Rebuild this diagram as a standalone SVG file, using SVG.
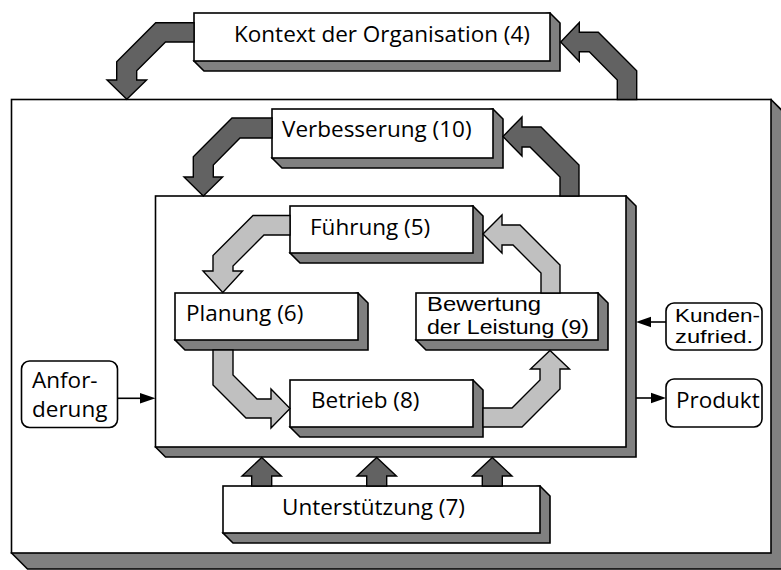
<svg xmlns="http://www.w3.org/2000/svg" width="781" height="570" viewBox="0 0 781 570">
<style>
.face{fill:#fff;stroke:#000;stroke-width:1.6}
.side{fill:#808080;stroke:#000;stroke-width:1.6;stroke-linejoin:miter}
.dark{fill:#626262;stroke:#000;stroke-width:1.4;stroke-linejoin:miter}
.light{fill:#c0c0c0;stroke:#000;stroke-width:1.4;stroke-linejoin:miter}
.rb{fill:#fff;stroke:#000;stroke-width:1.6}
.ln{stroke:#000;stroke-width:1.6;fill:none}
.hd{fill:#000}
text{font-family:"Open Sans","Noto Sans",sans-serif;font-size:22.5px;fill:#000}
text.tight{font-family:"Liberation Sans",Arial,sans-serif;font-size:20.5px}
</style>
<rect width="781" height="570" fill="#fff"/>

<g id="outer">
<polygon class="side" points="771,99.5 787,115.5 787,569 27.5,569 11.5,553"/>
<rect class="face" x="11.5" y="99.5" width="759.5" height="453.5"/>
</g>

<g id="kontext">
<polygon class="side" points="550,13 560,23 560,71 204,71 194,61"/>
<rect class="face" x="194" y="13" width="356" height="48"/>
<text x="234" y="42">Kontext der Organisation (4)</text>
</g>

<g id="verbesserung">
<polygon class="side" points="493,109 503,119 503,168 282,168 272,158"/>
<rect class="face" x="272" y="109" width="221" height="49"/>
<text x="282" y="137">Verbesserung (10)</text>
</g>

<g id="inner">
<polygon class="side" points="626,196 636,206 636,457 165.5,457 155.5,447"/>
<rect class="face" x="155.5" y="196" width="470.5" height="251"/>
</g>

<g id="fuehrung">
<polygon class="side" points="473,206 483,216 483,263 300,263 290,253"/>
<rect class="face" x="290" y="206" width="183" height="47"/>
<text x="310" y="235">Führung (5)</text>
</g>

<g id="planung">
<polygon class="side" points="358,293 368,303 368,350 185,350 175,340"/>
<rect class="face" x="175" y="293" width="183" height="47"/>
<text x="186" y="321">Planung (6)</text>
</g>

<g id="bewertung">
<polygon class="side" points="598,293 608,303 608,350 426,350 416,340"/>
<rect class="face" x="416" y="293" width="182" height="47"/>
<text class="tight" x="427" y="311"><tspan textLength="114" lengthAdjust="spacingAndGlyphs">Bewertung</tspan><tspan x="427" dy="22.5" textLength="162" lengthAdjust="spacingAndGlyphs">der Leistung (9)</tspan></text>
</g>

<g id="betrieb">
<polygon class="side" points="473,380 483,390 483,437 300,437 290,427"/>
<rect class="face" x="290" y="380" width="183" height="47"/>
<text x="311" y="408">Betrieb (8)</text>
</g>

<g id="unterstuetzung">
<polygon class="side" points="540,486 550,496 550,543 233,543 223,533"/>
<rect class="face" x="223" y="486" width="317" height="47"/>
<text x="282" y="515">Unterstützung (7)</text>
</g>

<g id="anforderung">
<rect class="rb" x="21.5" y="361" width="96" height="66.5" rx="8"/>
<text x="32" y="388">Anfor-<tspan x="32" dy="29">derung</tspan></text>
</g>

<g id="kundenzufriedenheit">
<rect class="rb" x="666" y="303" width="96" height="47" rx="8"/>
<text class="tight" x="675" y="322" style="font-size:18.5px"><tspan textLength="85" lengthAdjust="spacingAndGlyphs">Kunden-</tspan><tspan x="675" dy="20.5" textLength="78" lengthAdjust="spacingAndGlyphs">zufried.</tspan></text>
</g>

<g id="produkt">
<rect class="rb" x="666" y="379" width="96" height="48" rx="8"/>
<text x="676" y="408">Produkt</text>
</g>

<g id="connectors">
<polygon class="dark" points="194,22.7 155.7,22.7 116.7,61.7 116.7,80 107,80 126.8,99.3 146.6,80 136.7,80 136.7,70.7 165.5,42 194,42"/>
<polygon class="dark" points="560.7,42 579.3,22.5 579.3,32.3 598.3,32.3 636.7,70.7 636.7,99.5 617.3,99.5 617.3,80 589.3,51.7 579.3,51.7 579.3,61.5"/>
<polygon class="dark" points="272,118 232,118 193.3,156.7 193.3,177 184,177 203.3,196 222.6,177 213.3,177 213.3,165 240,138 272,138"/>
<polygon class="dark" points="503,136.5 522,117 522,127 541,127 579,165 579,196 560,196 560,177 530,147 522,147 522,156"/>
<polygon class="dark" points="251.7,486 251.7,476 242,476 261.7,457.5 281.4,476 271.7,476 271.7,486"/>
<polygon class="dark" points="366.7,486 366.7,476 357,476 376.7,457.5 396.4,476 386.7,476 386.7,486"/>
<polygon class="dark" points="482.3,486 482.3,476 472.6,476 492.3,457.5 512,476 502.3,476 502.3,486"/>

<polygon class="light" points="290,215.5 253,215.5 213,255.5 213,271 203,271 222.8,292.5 242.6,271 233,271 233,266 264,235 290,235"/>
<polygon class="light" points="213,350 213,385 246,418 271,418 271,428 290,408.5 271,389 271,399 257,399 233,375 233,350"/>
<polygon class="light" points="483,408 512,408 540,380 540,369 530.5,369 550,350.5 569.5,369 560,369 560,389 522,427 483,427"/>
<polygon class="light" points="560,293 560,265 520,225 502,225 502,215 483,234 502,253 502,245 513,245 541,273 541,293"/>

<line class="ln" x1="117.5" y1="398.3" x2="142" y2="398.3"/>
<polygon class="hd" points="155.5,398.3 140,393 140,403.6"/>
<line class="ln" x1="666" y1="322" x2="648" y2="322"/>
<polygon class="hd" points="636,322 651,316.7 651,327.3"/>
<line class="ln" x1="636" y1="398" x2="654" y2="398"/>
<polygon class="hd" points="666,398 651,392.7 651,403.3"/>
</g>
</svg>
